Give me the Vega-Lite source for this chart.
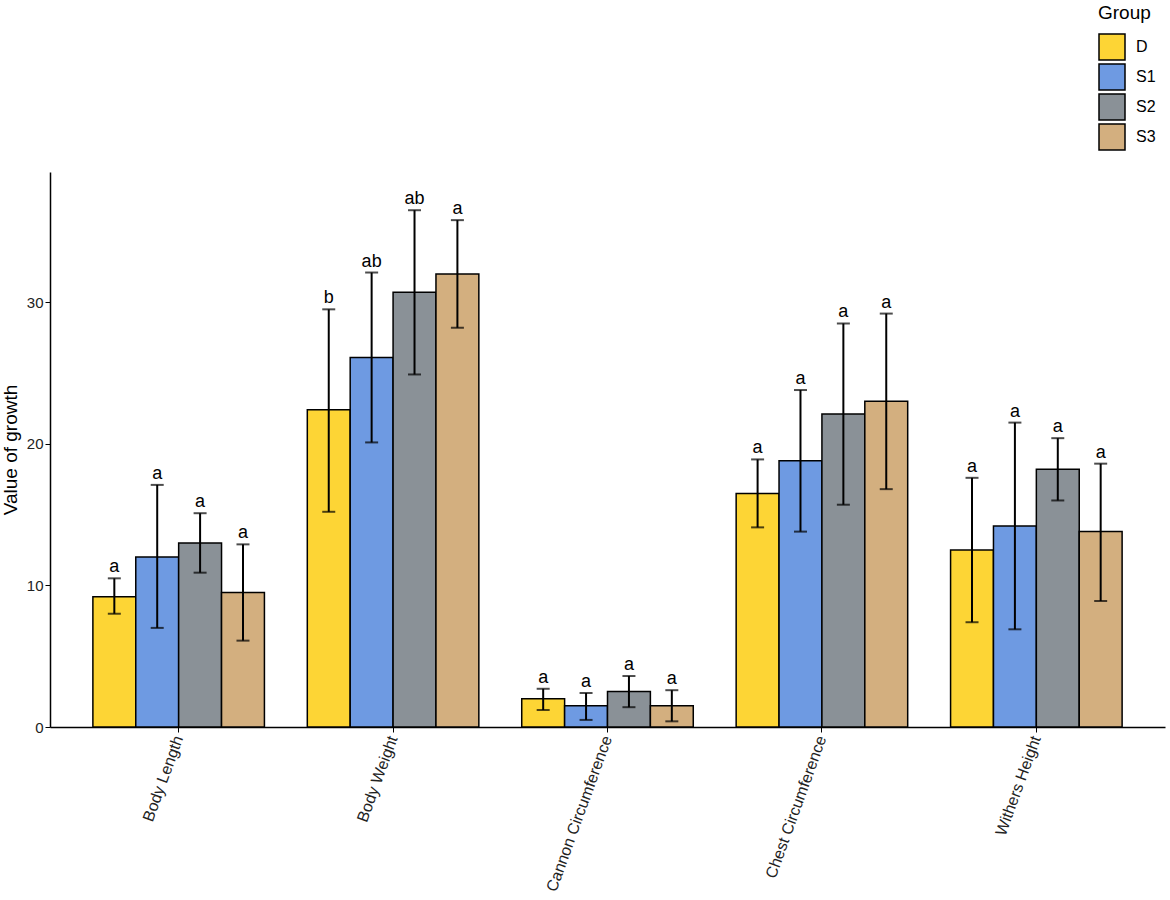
{
  "$schema": "https://vega.github.io/schema/vega-lite/v6.json",
  "width": 1115,
  "height": 555,
  "autosize": {"type": "none"},
  "padding": {"left": 50, "top": 172, "right": 5, "bottom": 173},
  "background": "white",
  "config": {
    "font": "Liberation Sans",
    "view": {"stroke": null},
    "axis": {
      "domainColor": "black",
      "domainWidth": 1.5,
      "tickColor": "black",
      "tickWidth": 1,
      "tickSize": 5,
      "grid": false,
      "labelFont": "Liberation Sans",
      "labelFontSize": 15,
      "labelColor": "#222222",
      "titleFont": "Liberation Sans",
      "titleFontWeight": "normal",
      "titleFontSize": 19,
      "titleColor": "black"
    }
  },
  "data": {
    "values": [
      {"trait": "Body Length", "group": "D", "mean": 9.2, "lo": 8.0, "hi": 10.5, "sig": "a"},
      {"trait": "Body Length", "group": "S1", "mean": 12.0, "lo": 7.0, "hi": 17.1, "sig": "a"},
      {"trait": "Body Length", "group": "S2", "mean": 13.0, "lo": 10.9, "hi": 15.1, "sig": "a"},
      {"trait": "Body Length", "group": "S3", "mean": 9.5, "lo": 6.1, "hi": 12.9, "sig": "a"},
      {"trait": "Body Weight", "group": "D", "mean": 22.4, "lo": 15.2, "hi": 29.5, "sig": "b"},
      {"trait": "Body Weight", "group": "S1", "mean": 26.1, "lo": 20.1, "hi": 32.1, "sig": "ab"},
      {"trait": "Body Weight", "group": "S2", "mean": 30.7, "lo": 24.9, "hi": 36.5, "sig": "ab"},
      {"trait": "Body Weight", "group": "S3", "mean": 32.0, "lo": 28.2, "hi": 35.8, "sig": "a"},
      {"trait": "Cannon Circumference", "group": "D", "mean": 2.0, "lo": 1.2, "hi": 2.7, "sig": "a"},
      {"trait": "Cannon Circumference", "group": "S1", "mean": 1.5, "lo": 0.5, "hi": 2.4, "sig": "a"},
      {"trait": "Cannon Circumference", "group": "S2", "mean": 2.5, "lo": 1.4, "hi": 3.6, "sig": "a"},
      {"trait": "Cannon Circumference", "group": "S3", "mean": 1.5, "lo": 0.4, "hi": 2.6, "sig": "a"},
      {"trait": "Chest Circumference", "group": "D", "mean": 16.5, "lo": 14.1, "hi": 18.9, "sig": "a"},
      {"trait": "Chest Circumference", "group": "S1", "mean": 18.8, "lo": 13.8, "hi": 23.8, "sig": "a"},
      {"trait": "Chest Circumference", "group": "S2", "mean": 22.1, "lo": 15.7, "hi": 28.5, "sig": "a"},
      {"trait": "Chest Circumference", "group": "S3", "mean": 23.0, "lo": 16.8, "hi": 29.2, "sig": "a"},
      {"trait": "Withers Height", "group": "D", "mean": 12.5, "lo": 7.4, "hi": 17.6, "sig": "a"},
      {"trait": "Withers Height", "group": "S1", "mean": 14.2, "lo": 6.9, "hi": 21.5, "sig": "a"},
      {"trait": "Withers Height", "group": "S2", "mean": 18.2, "lo": 16.0, "hi": 20.4, "sig": "a"},
      {"trait": "Withers Height", "group": "S3", "mean": 13.8, "lo": 8.9, "hi": 18.6, "sig": "a"}
    ]
  },
  "encoding": {
    "x": {
      "field": "trait",
      "type": "nominal",
      "title": null,
      "scale": {"paddingInner": 0.2, "paddingOuter": 0.2},
      "axis": {"labelAngle": -70, "labelPadding": 4, "labelFontSize": 16}
    },
    "xOffset": {
      "field": "group",
      "type": "nominal",
      "scale": {"paddingInner": 0, "paddingOuter": 0}
    }
  },
  "layer": [
    {
      "mark": {"type": "bar", "stroke": "black", "strokeWidth": 1.5},
      "encoding": {
        "y": {
          "field": "mean",
          "type": "quantitative",
          "title": "Value of growth",
          "scale": {"domain": [0, 39.2], "nice": false},
          "axis": {"values": [0, 10, 20, 30], "titlePadding": 6}
        },
        "fill": {
          "field": "group",
          "type": "nominal",
          "scale": {
            "domain": ["D", "S1", "S2", "S3"],
            "range": ["#FDD535", "#6E9AE2", "#8A9197", "#D3AF7F"]
          },
          "legend": {
            "title": "Group",
            "orient": "none",
            "legendX": 1048,
            "legendY": -168,
            "symbolType": "square",
            "symbolSize": 676,
            "symbolStrokeColor": "black",
            "symbolStrokeWidth": 1.5,
            "symbolOpacity": 1,
            "titleFontSize": 19,
            "titleFontWeight": "normal",
            "titleColor": "black",
            "labelFontSize": 16,
            "labelColor": "black",
            "labelOffset": 10,
            "rowPadding": -8,
            "titlePadding": 10
          }
        }
      }
    },
    {
      "mark": {"type": "rule", "color": "black", "strokeWidth": 2},
      "encoding": {
        "y": {"field": "lo", "type": "quantitative"},
        "y2": {"field": "hi"}
      }
    },
    {
      "mark": {"type": "tick", "color": "black", "thickness": 2, "size": 13},
      "encoding": {
        "y": {"field": "lo", "type": "quantitative"}
      }
    },
    {
      "mark": {"type": "tick", "color": "black", "thickness": 2, "size": 13},
      "encoding": {
        "y": {"field": "hi", "type": "quantitative"}
      }
    },
    {
      "mark": {"type": "text", "fontSize": 18, "color": "black", "baseline": "alphabetic", "dy": -6},
      "encoding": {
        "y": {"field": "hi", "type": "quantitative"},
        "text": {"field": "sig", "type": "nominal"}
      }
    }
  ]
}
